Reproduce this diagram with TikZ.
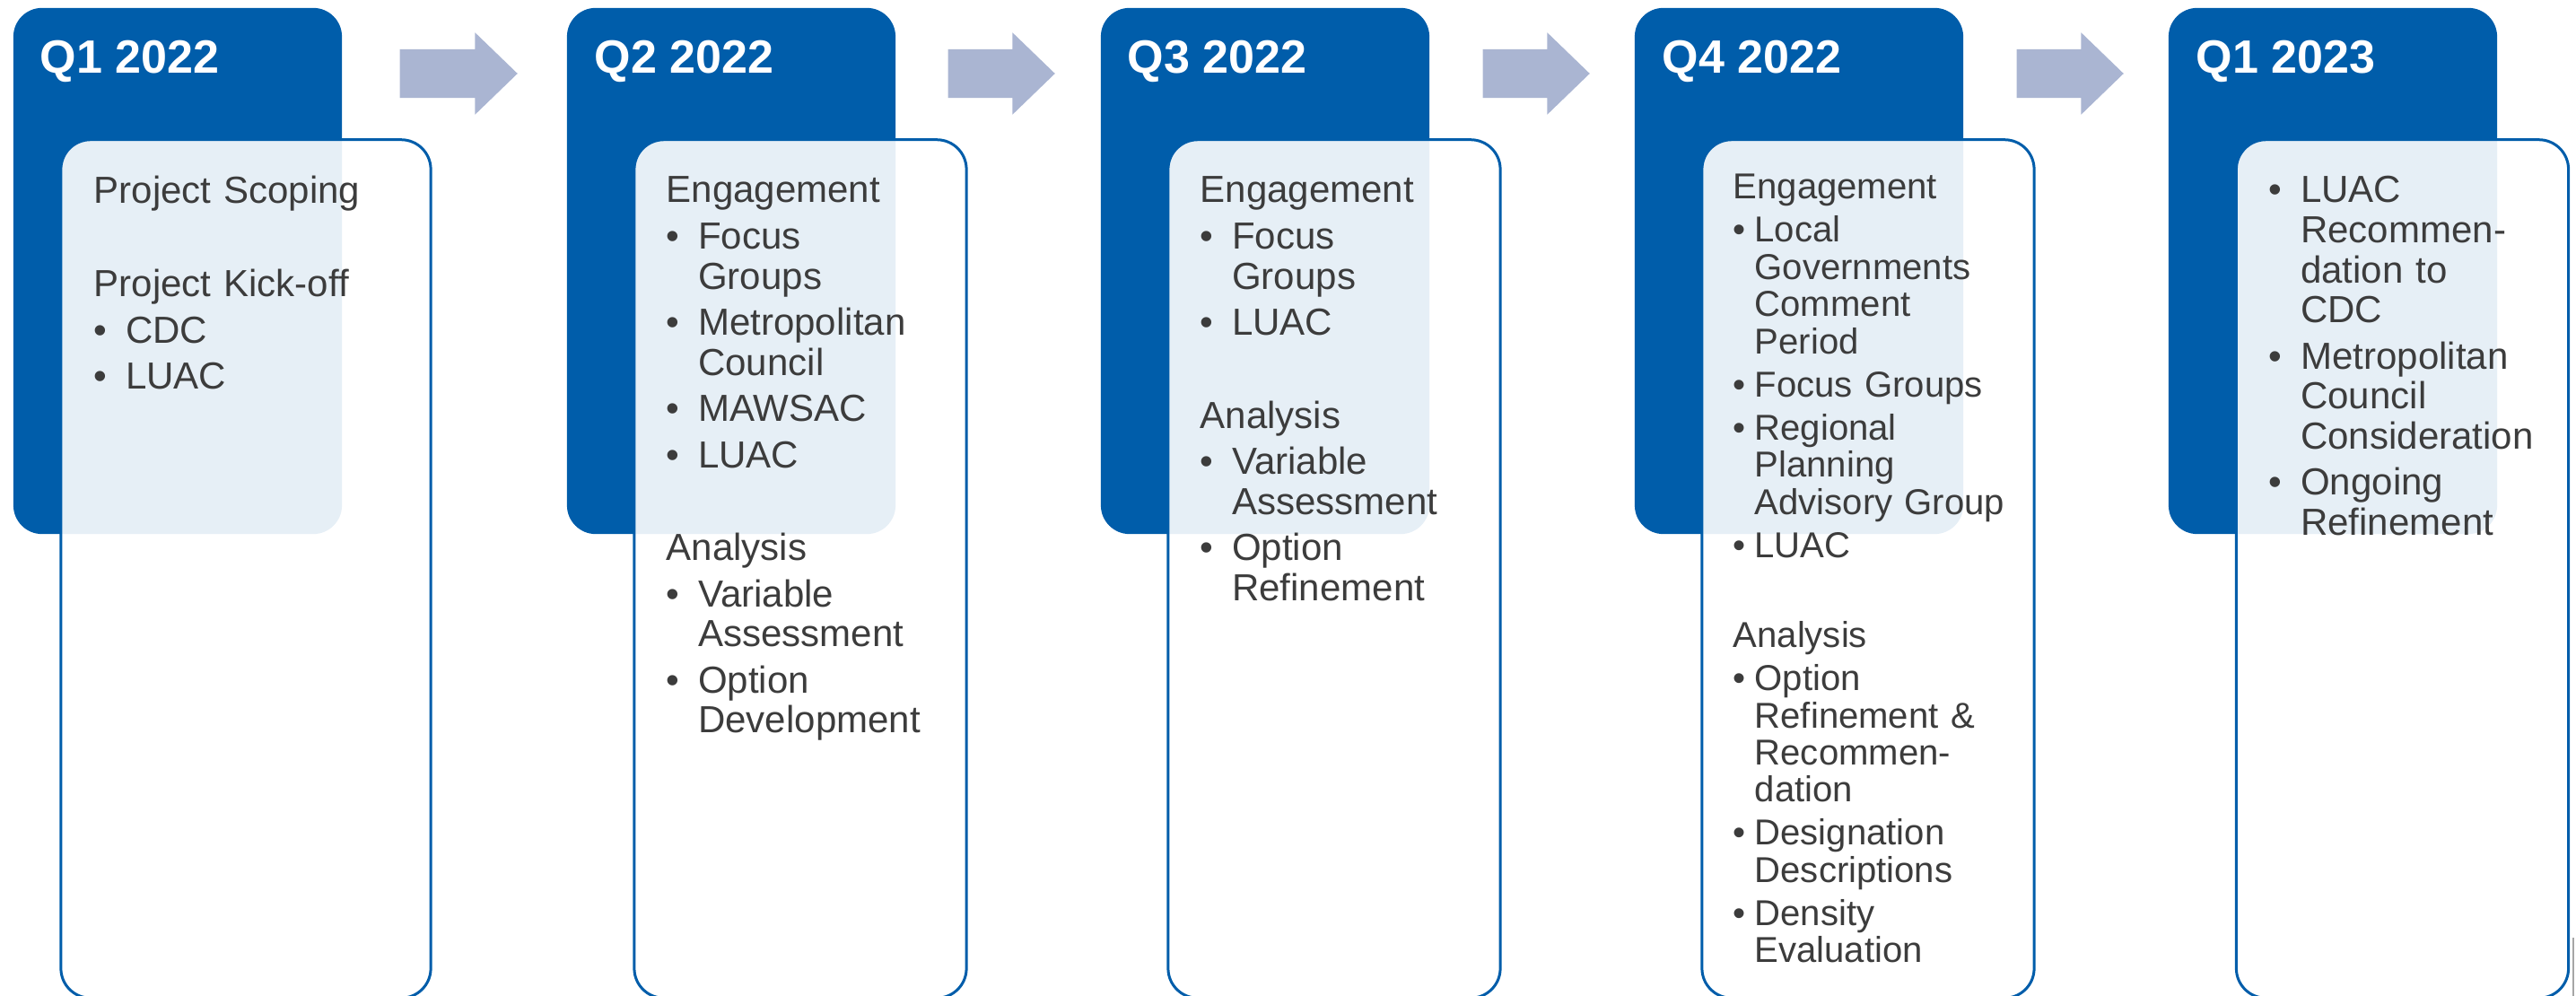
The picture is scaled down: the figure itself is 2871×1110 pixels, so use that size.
\documentclass[tikz,border=0pt]{standalone}
\usepackage{fontspec}
\setmainfont{Liberation Sans}
\usepackage{xcolor}
\usetikzlibrary{positioning,shapes,shapes.arrows}

\definecolor{qblue}{RGB}{0,93,170}
\definecolor{qarrow}{RGB}{170,181,210}
\definecolor{qtext}{RGB}{60,60,60}

\newlength\itmind
\newcommand{\itmbody}[1]{\hangindent=\itmind\hangafter=1\noindent\makebox[\itmind][l]{\textbullet}#1\par}
\newcommand{\itm}[1]{\par\itmbody{#1}}
\newcommand{\gap}{\par\vspace{0.52cm}}

\begin{document}
\begin{tikzpicture}[x=0.01cm, y=-0.01cm,
          quarter/.style = {rectangle, rounded corners=0.32cm, fill=qblue,
            minimum width=3.66cm, minimum height=5.86cm, inner sep=0pt},
          panel/.style = {rectangle, rounded corners=0.33cm, draw=qblue,
            line width=0.03cm, fill=white, fill opacity=0.9,
            minimum width=3.70cm, minimum height=9.56cm, inner sep=0pt},
          qtitle/.style = {anchor=base west, inner sep=0pt, text=white,
            font=\fontsize{14.8}{17}\selectfont\bfseries},
          notes/.style = {anchor=base west, inner sep=0pt, text=qtext,
            text width=4.2cm, align=left,
            font=\fontsize{11.95}{12.66}\selectfont,
            execute at begin node={\setlength\parskip{0.07cm}\setlength\itmind{0.355cm}}},
          small notes/.style = {notes, font=\fontsize{11.4}{11.8}\selectfont,
            execute at begin node={\setlength\parskip{0.065cm}\setlength\itmind{0.24cm}}},
          flow/.style = {single arrow, fill=qarrow, draw=none, anchor=tail,
            inner xsep=0pt, inner ysep=0.265cm,
            minimum width=0.9cm, single arrow head extend=0.185cm,
            single arrow tip angle=88}]
          \clip (0,0) rectangle (2871,1110);
          % quarter headers
          \node[quarter] (q1) at (198,302) {};
          \node[quarter] (q2) at (815,302) {};
          \node[quarter] (q3) at (1410,302) {};
          \node[quarter] (q4) at (2005,302) {};
          \node[quarter] (q5) at (2600,302) {};
          \node[qtitle] (t1) at (44,82) {Q1 2022};
          \node[qtitle] (t2) at (662,82) {Q2 2022};
          \node[qtitle] (t3) at (1256,82) {Q3 2022};
          \node[qtitle] (t4) at (1852,82) {Q4 2022};
          \node[qtitle] (t5) at (2447,82) {Q1 2023};
          % timeline arrows
          \node[flow, minimum height=1.31cm] (f1) at (445,82) {};
          \node[flow, minimum height=1.19cm] (f2) at (1056,82) {};
          \node[flow, minimum height=1.19cm] (f3) at (1652,82) {};
          \node[flow, minimum height=1.19cm] (f4) at (2247,82) {};
          % task panels
          \node[panel, minimum width=4.12cm] (p1) at (274,634) {};
          \node[panel] (p2) at (892,634) {};
          \node[panel] (p3) at (1487,634) {};
          \node[panel] (p4) at (2082,634) {};
          \node[panel] (p5) at (2677.5,634) {};
          % tasks
          \node[notes] (n1) at (104,227)
            {Project Scoping\gap
             Project Kick-off\itm{CDC}\itm{LUAC}};
          \node[notes] (n2) at (742,226)
            {Engagement\itm{Focus\newline Groups}\itm{Metropolitan\newline Council}
             \itm{MAWSAC}\itm{LUAC}\gap
             Analysis\itm{Variable\newline Assessment}\itm{Option\newline Development}};
          \node[notes] (n3) at (1337,226)
            {Engagement\itm{Focus\newline Groups}\itm{LUAC}\gap
             Analysis\itm{Variable\newline Assessment}\itm{Option\newline Refinement}};
          \node[small notes] (n4) at (1931,222)
            {Engagement\itm{Local\newline Governments\newline Comment\newline Period}
             \itm{Focus Groups}\itm{Regional\newline Planning\newline Advisory Group}
             \itm{LUAC}\gap
             Analysis\itm{Option\newline Refinement \&\newline Recommen-\newline dation}
             \itm{Designation\newline Descriptions}\itm{Density\newline Evaluation}};
          \node[notes] (n5) at (2528,226)
            {\itmbody{LUAC\newline Recommen-\newline dation to\newline CDC}
             \itm{Metropolitan\newline Council\newline Consideration}
             \itm{Ongoing\newline Refinement}};
          \draw[gray!70, line width=0.02cm] (2868,1045) -- (2868,1110);
        \end{tikzpicture}
\end{document}
